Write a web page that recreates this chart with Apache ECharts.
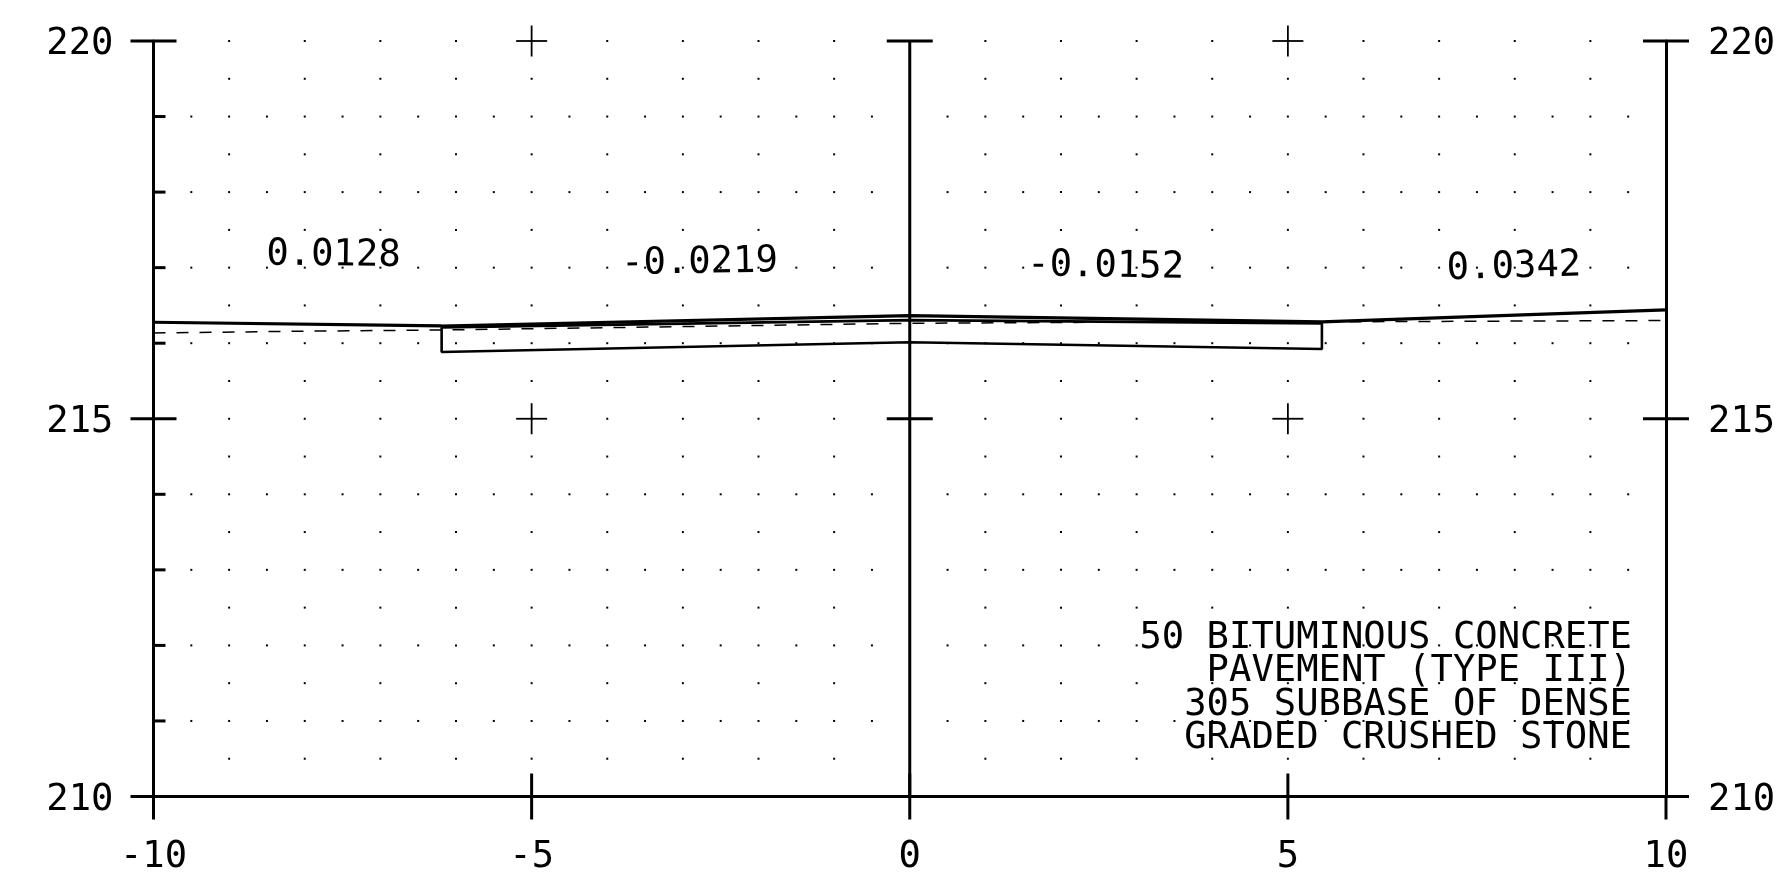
<!DOCTYPE html>
<html><head><meta charset="utf-8">
<style>html,body{margin:0;padding:0;background:#fff}#c{width:1783px;height:876px}</style>
<script src="https://cdn.jsdelivr.net/npm/echarts@6/dist/echarts.min.js"></script>
</head><body><div id="c"></div>
<script>
const FONT = '"DejaVu Sans Mono"';
const FS = 37.2;
const surfaceLine = [[-10,216.277],[-6.19,216.228],[0,216.364],[5.45,216.281],[10,216.44]];
const existingGround = [[-10,216.135],[-8.1,216.158],[-6.2,216.175],[-3,216.22],[0,216.263],[3,216.28],[6,216.285],[10,216.30]];
const pavementBox = [[-6.19,216.21],[0,216.306],[5.45,216.263],[5.45,215.923],[0,216.012],[-6.19,215.884],[-6.19,216.21]];
const slopeLabels = [
  [-7.62,217.16,'0.0128',-0.7],
  [-2.78,217.06,'-0.0219',1.0],
  [2.59,217.01,'-0.0152',-1.0],
  [7.99,217.0,'0.0342',1.6]
];
const noteLines = ['50 BITUMINOUS CONCRETE','PAVEMENT (TYPE III)','305 SUBBASE OF DENSE','GRADED CRUSHED STONE'];
const majorYTicks = [[-10,220],[-10,215],[-10,210],[0,220],[0,215],[10,220],[10,215],[10,210]];
const bottomXTicksBoth = [[-5,210],[0,210],[5,210]];
const bottomXTicksDown = [[-10,210],[10,210]];
const minorYTicks = [[-10,219],[-10,218],[-10,217],[-10,216],[-10,214],[-10,213],[-10,212],[-10,211]];
const crosses = [[-5,220],[5,220],[-5,215],[5,215]];
const centerLine = [[0,210],[0,220]];
const coarseRows = [220,219.5,218.5,217.5,216.5,215.5,215,214.5,213.5,212.5,211.5,210.5];
const fineRows = [219,218,217,216,214,213,212,211];
const coarseCols = [-9,-8,-7,-6,-5,-4,-3,-2,-1,1,2,3,4,5,6,7,8,9];
const fineCols = [-9.5,-9,-8.5,-8,-7.5,-7,-6.5,-6,-5.5,-5,-4.5,-4,-3.5,-3,-2.5,-2,-1.5,-1,-0.5,0.5,1,1.5,2,2.5,3,3.5,4,4.5,5,5.5,6,6.5,7,7.5,8,8.5,9,9.5];

const dots = [];
coarseRows.forEach(y => coarseCols.forEach(x => dots.push([x,y])));
fineRows.forEach(y => fineCols.forEach(x => dots.push([x,y])));

function lineEl(x1,y1,x2,y2,w){
  return {type:'line',shape:{x1,y1,x2,y2},style:{stroke:'#000',lineWidth:w,fill:null}};
}
function tickSeries(data, draw){
  return {type:'custom',coordinateSystem:'cartesian2d',silent:true,animation:false,clip:false,z:4,
    encode:{x:0,y:1},data,
    renderItem:(p,api)=>{const c=api.coord([api.value(0),api.value(1)]);return {type:'group',children:draw(c[0],c[1])};}};
}
const poly = (data,w,extra)=>({type:'line',data,showSymbol:false,silent:true,animation:false,z:3,clip:false,
  lineStyle:Object.assign({color:'#000',width:w},extra||{})});
const axisLabel = {color:'#000',fontFamily:FONT,fontSize:FS};
const yLabel = {verticalAlign:'top',lineHeight:7,
  verticalAlignMinLabel:'top',verticalAlignMaxLabel:'top'};
const AW = 3;

const chart = echarts.init(document.getElementById('c'),null,{renderer:'canvas'});
chart.setOption({
  backgroundColor:'#fff',animation:false,
  grid:{left:153.5,right:117,top:41,bottom:79.5,containLabel:false},
  xAxis:{type:'value',min:-10,max:10,interval:5,splitLine:{show:false},axisTick:{show:false},
    axisLine:{show:true,onZero:false,lineStyle:{color:'#000',width:AW}},
    axisLabel:Object.assign({margin:42,showMinLabel:true,showMaxLabel:true},axisLabel)},
  yAxis:[
    {type:'value',min:210,max:220,interval:5,position:'left',splitLine:{show:false},axisTick:{show:false},
     axisLine:{show:true,onZero:false,lineStyle:{color:'#000',width:AW}},axisLabel:Object.assign({margin:40},yLabel,axisLabel)},
    {type:'value',min:210,max:220,interval:5,position:'right',splitLine:{show:false},axisTick:{show:false},
     axisLine:{show:true,onZero:false,lineStyle:{color:'#000',width:AW}},axisLabel:Object.assign({margin:42},yLabel,axisLabel)}
  ],
  series:[
    {type:'scatter',data:dots,symbol:'rect',symbolSize:2,itemStyle:{color:'#000',opacity:1},silent:true,animation:false,z:1},
    poly(centerLine,AW),
    poly(surfaceLine,3.2),
    poly(pavementBox,2.6),
    poly(existingGround,1.5,{type:[12,11]}),
    tickSeries(majorYTicks,(x,y)=>[lineEl(x-23,y,x+23,y,AW)]),
    tickSeries(bottomXTicksBoth,(x,y)=>[lineEl(x,y-23,x,y+23,AW)]),
    tickSeries(bottomXTicksDown,(x,y)=>[lineEl(x,y,x,y+23,AW)]),
    tickSeries(minorYTicks,(x,y)=>[lineEl(x,y,x+12,y,AW)]),
    tickSeries(crosses,(x,y)=>[lineEl(x-15.5,y,x+15.5,y,1.8),lineEl(x,y-15.5,x,y+15.5,1.8)]),
    {type:'scatter',symbolSize:0,silent:true,animation:false,z:5,itemStyle:{opacity:1},
     data:slopeLabels.map(d=>({value:[d[0],d[1]],
       label:{show:true,position:'inside',formatter:d[2],rotate:d[3],color:'#000',opacity:1,fontFamily:FONT,fontSize:FS}}))}
  ],
  graphic:noteLines.map((t,i)=>({type:'text',silent:true,z:6,x:1632,y:638.5+i*33.3,
    style:{text:t,fill:'#000',font:FS+'px '+FONT,textAlign:'right',textVerticalAlign:'middle',verticalAlign:'middle'}}))
});
</script></body></html>
